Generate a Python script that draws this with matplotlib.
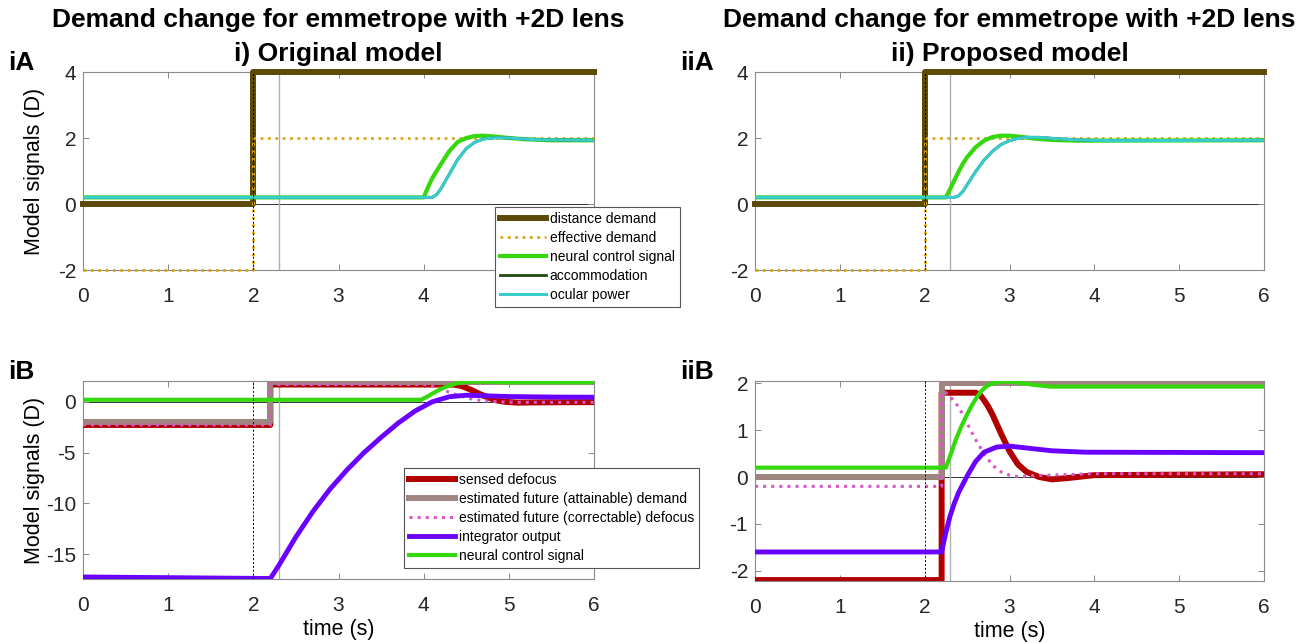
import matplotlib
matplotlib.use("Agg")
import matplotlib.pyplot as plt

plt.rcParams['font.family'] = ['Liberation Sans', 'DejaVu Sans']
plt.rcParams['axes.unicode_minus'] = False

# ---------------- data (time in s, signals in D) ----------------
# row A: demand / response
t_step_A = [0, 2, 2, 6]
distance_demand = [0, 0, 4, 4]
effective_demand = [-2, -2, 2, 2]

t_neural_iA = [0, 4.0, 4.05, 4.1, 4.2, 4.3, 4.4, 4.5, 4.6, 4.7, 4.85, 5.0, 5.2, 5.5, 6]
neural_iA = [0.2, 0.2, 0.5, 0.78, 1.2, 1.6, 1.88, 2.0, 2.06, 2.07, 2.04, 2.0, 1.96, 1.93, 1.93]
t_ocular_iA = [0, 4.1, 4.15, 4.2, 4.3, 4.4, 4.5, 4.6, 4.7, 4.85, 5.0, 5.3, 6]
ocular_iA = [0.2, 0.2, 0.28, 0.45, 0.9, 1.35, 1.68, 1.87, 1.97, 2.01, 2.0, 1.95, 1.93]
accommodation_iA = ocular_iA

t_neural_iiA = [0, 2.25, 2.3, 2.35, 2.4, 2.45, 2.5, 2.6, 2.7, 2.8, 2.9, 3.0, 3.15, 3.3, 3.5, 3.8, 6]
neural_iiA = [0.2, 0.2, 0.45, 0.72, 0.98, 1.22, 1.42, 1.72, 1.92, 2.03, 2.07, 2.07, 2.03, 1.98, 1.94, 1.92, 1.93]
t_ocular_iiA = [0, 2.35, 2.4, 2.45, 2.5, 2.6, 2.7, 2.8, 2.9, 3.0, 3.1, 3.2, 3.35, 3.5, 3.8, 4.2, 6]
ocular_iiA = [0.2, 0.2, 0.25, 0.38, 0.58, 0.98, 1.33, 1.6, 1.8, 1.92, 1.99, 2.02, 2.02, 1.99, 1.94, 1.92, 1.93]
accommodation_iiA = ocular_iiA

# row B: internal model signals
t_step_B = [0, 2.2, 2.2, 6]
attainable_iB = [-2.0, -2.0, 1.95, 1.95]
attainable_iiB = [0, 0, 2.0, 2.0]

t_sensed_iB = [0, 2.2, 2.2, 4.35, 4.45, 4.55, 4.65, 4.75, 4.85, 4.95, 5.1, 5.4, 6]
sensed_iB = [-2.28, -2.28, 1.7, 1.7, 1.55, 1.2, 0.8, 0.45, 0.15, 0.0, -0.08, -0.05, -0.03]
t_correct_iB = [0, 2.2, 2.2, 4.05, 4.15, 4.25, 4.4, 4.55, 4.7, 4.87, 5.1, 6]
correct_iB = [-2.28, -2.28, 1.7, 1.7, 1.5, 1.1, 0.65, 0.3, 0.1, 0.0, -0.05, -0.05]
t_integ_iB = [0, 2.2, 2.3, 2.5, 2.7, 2.9, 3.1, 3.3, 3.5, 3.7, 3.9, 4.1, 4.3, 4.5, 4.7, 5.0, 5.5, 6]
integ_iB = [-17.25, -17.4, -16.1, -13.3, -10.8, -8.6, -6.7, -5.0, -3.5, -2.1, -0.9, 0.0, 0.5, 0.65, 0.6, 0.52, 0.47, 0.45]
t_neural_iB = [0, 3.97, 4.05, 4.1, 4.2, 4.3, 4.4, 4.55, 4.7, 5.0, 6]
neural_iB = [0.2, 0.2, 0.55, 0.8, 1.25, 1.6, 1.85, 2.0, 1.98, 1.92, 1.92]

t_sensed_iiB = [0, 2.2, 2.2, 2.6, 2.65, 2.7, 2.75, 2.8, 2.85, 2.9, 2.95, 3.0, 3.1, 3.2, 3.35, 3.5, 3.7, 4.0, 6]
sensed_iiB = [-2.2, -2.2, 1.8, 1.8, 1.76, 1.64, 1.5, 1.33, 1.13, 0.93, 0.74, 0.55, 0.27, 0.11, 0.0, -0.05, -0.02, 0.04, 0.06]
t_correct_iiB = [0, 2.2, 2.2, 2.25, 2.3, 2.4, 2.5, 2.6, 2.7, 2.8, 2.9, 3.0, 3.1, 3.3, 4.0, 6]
correct_iiB = [-0.2, -0.2, 1.8, 1.8, 1.72, 1.5, 1.15, 0.8, 0.5, 0.25, 0.11, 0.04, 0.01, 0.03, 0.07, 0.07]
t_integ_iiB = [0, 2.2, 2.25, 2.3, 2.35, 2.4, 2.5, 2.6, 2.7, 2.85, 3.0, 3.2, 3.5, 3.9, 6]
integ_iiB = [-1.6, -1.6, -1.18, -0.83, -0.56, -0.33, 0.02, 0.33, 0.53, 0.64, 0.66, 0.62, 0.56, 0.53, 0.52]
t_neural_iiB = [0, 2.25, 2.3, 2.37, 2.43, 2.49, 2.55, 2.61, 2.67, 2.73, 2.8, 2.88, 2.95, 3.05, 3.28, 3.48, 6]
neural_iiB = [0.2, 0.2, 0.45, 0.81, 1.07, 1.3, 1.51, 1.69, 1.84, 1.94, 2.0, 2.03, 2.04, 2.03, 1.97, 1.93, 1.93]

labels_A = ['distance demand', 'effective demand', 'neural control signal',
            'accommodation', 'ocular power']
labels_B = ['sensed defocus', 'estimated future (attainable) demand',
            'estimated future (correctable) defocus', 'integrator output',
            'neural control signal']

# colours
c_dist = '#5e4a08'
c_eff = '#dba61a'
c_neural = '#35d80a'
c_acc = '#1f4a10'
c_ocular = '#38cccc'
c_sensed = '#b00000'
c_attain = '#9e8580'
c_correct = '#d957c8'
c_integ = '#6a00ff'

W, H = 1302, 643
fig = plt.figure(figsize=(W / 100, H / 100), dpi=100)


def add_axes(left, top, right, bottom):
    return fig.add_axes([left / W, 1 - bottom / H, (right - left) / W, (bottom - top) / H])


def style(ax, ylim, yticks):
    ax.set_xlim(0, 6)
    ax.set_ylim(*ylim)
    ax.set_xticks(range(7))
    ax.set_yticks(yticks)
    for s in ax.spines.values():
        s.set_color('#8a8a8a')
        s.set_linewidth(0.8)
    ax.tick_params(direction='in', top=True, right=True, length=4, width=0.7,
                   color='#8a8a8a', labelsize=15, labelcolor='#262626')
    ax.tick_params(axis='x', pad=12)
    ax.tick_params(axis='y', pad=5)
    ax.axhline(0, color='#333333', lw=0.7, zorder=1)
    ax.axvline(2.3, color='#b0b0b0', lw=1.0, zorder=1)


def ref_line(ax):
    ax.axvline(2, color='k', ls=(0, (2, 2)), lw=0.7, zorder=10)


def make_legend(ax, handles, labels, x, y):
    leg = ax.legend(handles, labels, loc='upper left',
                    bbox_to_anchor=(x / W, 1 - y / H), bbox_transform=fig.transFigure,
                    borderaxespad=0, fontsize=10, handlelength=3.3, handletextpad=0.3,
                    labelspacing=0.36, borderpad=0.35, fancybox=False, framealpha=1,
                    edgecolor='#555555')
    leg.get_frame().set_linewidth(0.8)
    leg.set_zorder(20)


axes_A = [add_axes(83, 72, 594, 270), add_axes(755, 72, 1264, 270)]
axes_B = [add_axes(83, 381, 594, 579), add_axes(755, 381, 1264, 581)]

neural_A = [(t_neural_iA, neural_iA), (t_neural_iiA, neural_iiA)]
ocular_A = [(t_ocular_iA, ocular_iA, accommodation_iA), (t_ocular_iiA, ocular_iiA, accommodation_iiA)]

for i, ax in enumerate(axes_A):
    style(ax, (-2, 4), [-2, 0, 2, 4])
    h1, = ax.plot(t_step_A, distance_demand, color=c_dist, lw=4.3, clip_on=False, zorder=3)
    h2, = ax.plot(t_step_A, effective_demand, color=c_eff, lw=2.0, ls=':', clip_on=False, zorder=4)
    h3, = ax.plot(*neural_A[i], color=c_neural, lw=3.0, zorder=4)
    t_o, v_o, v_a = ocular_A[i]
    h4, = ax.plot(t_o, v_a, color=c_acc, lw=2.0, zorder=4)
    h5, = ax.plot(t_o, v_o, color=c_ocular, lw=2.2, zorder=5)
    ref_line(ax)
    if i == 0:
        ax.set_ylabel('Model signals (D)', fontsize=15.5)
        ax.yaxis.set_label_coords((45 - 83) / 511, 0.5)
        make_legend(ax, [h1, h2, h3, h4, h5], labels_A, 495, 207)
        # tick labels 5 and 6 sit behind the legend box
        ax.set_xticklabels(['0', '1', '2', '3', '4', '', ''])

B_series = [
    (attainable_iB, (t_sensed_iB, sensed_iB), (t_correct_iB, correct_iB),
     (t_integ_iB, integ_iB), (t_neural_iB, neural_iB)),
    (attainable_iiB, (t_sensed_iiB, sensed_iiB), (t_correct_iiB, correct_iiB),
     (t_integ_iiB, integ_iiB), (t_neural_iiB, neural_iiB)),
]
B_lims = [((-17.45, 2.05), [-15, -10, -5, 0]), ((-2.22, 2.05), [-2, -1, 0, 1, 2])]

for i, ax in enumerate(axes_B):
    style(ax, *B_lims[i])
    attain, sensed, correct, integ, neural = B_series[i]
    h1, = ax.plot(*sensed, color=c_sensed, lw=4.3, zorder=3)
    h2, = ax.plot(t_step_B, attain, color=c_attain, lw=4.3, zorder=3)
    h3, = ax.plot(*correct, color=c_correct, lw=2.2, ls=':', zorder=4)
    h4, = ax.plot(*integ, color=c_integ, lw=3.5, zorder=4)
    h5, = ax.plot(*neural, color=c_neural, lw=3.0, zorder=5)
    ref_line(ax)
    ax.set_xlabel('time (s)', fontsize=15.5, labelpad=3)
    if i == 0:
        ax.set_ylabel('Model signals (D)', fontsize=15.5)
        ax.yaxis.set_label_coords((45 - 83) / 511, 0.5)
        make_legend(ax, [h1, h2, h3, h4, h5], labels_B, 404, 468)

# titles and panel labels
for cx, sub in [((83 + 594) / 2, 'i) Original model'), ((755 + 1264) / 2, 'ii) Proposed model')]:
    fig.text(cx / W, 1 - 20 / H, 'Demand change for emmetrope with +2D lens',
             ha='center', va='center', fontsize=19, fontweight='bold')
    fig.text(cx / W, 1 - 54 / H, sub, ha='center', va='center', fontsize=19, fontweight='bold')

for x, y, s in [(8, 63, 'iA'), (680, 63, 'iiA'), (8, 372, 'iB'), (680, 372, 'iiB')]:
    fig.text(x / W, 1 - y / H, s, ha='left', va='center', fontsize=19, fontweight='bold')

fig.savefig('out.png', dpi=100)
